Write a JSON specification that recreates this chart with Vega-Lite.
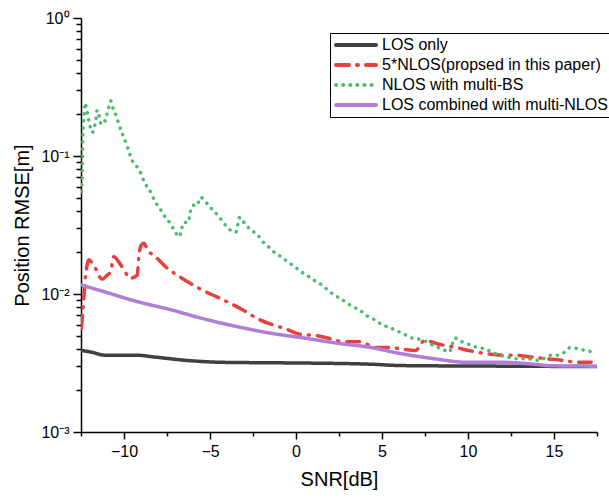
{
  "$schema": "https://vega.github.io/schema/vega-lite/v6.json",
  "width": 516,
  "height": 414,
  "autosize": "none",
  "padding": {"left": 81, "top": 18, "right": 12, "bottom": 69},
  "background": "white",
  "config": {
    "view": {"stroke": null},
    "font": "Liberation Sans",
    "axis": {"domainColor": "black", "domainWidth": 1.5, "tickColor": "black", "tickWidth": 1.5, "grid": false, "labelColor": "black", "titleColor": "black", "labelFontSize": 16, "titleFontSize": 20, "titleFontWeight": "normal"},
    "legend": {
      "orient": "none",
      "legendX": 249,
      "legendY": 15,
      "strokeColor": "black",
      "fillColor": "white",
      "padding": 4,
      "labelFontSize": 16,
      "labelColor": "black",
      "labelLimit": 400,
      "labelOffset": 4,
      "symbolSize": 1600,
      "symbolStrokeWidth": 4,
      "clipHeight": 16,
      "rowPadding": 4
    }
  },
  "datasets": {
    "curves": [
      {"snr": -12.47, "rmse": 0.0039, "method": "LOS only"},
      {"snr": -11.95, "rmse": 0.0038, "method": "LOS only"},
      {"snr": -11.08, "rmse": 0.0036, "method": "LOS only"},
      {"snr": -10.2, "rmse": 0.0036, "method": "LOS only"},
      {"snr": -9.23, "rmse": 0.0036, "method": "LOS only"},
      {"snr": -8.27, "rmse": 0.0035, "method": "LOS only"},
      {"snr": -6.33, "rmse": 0.0033, "method": "LOS only"},
      {"snr": -4.39, "rmse": 0.0032, "method": "LOS only"},
      {"snr": -2.45, "rmse": 0.00318, "method": "LOS only"},
      {"snr": 0.45, "rmse": 0.00316, "method": "LOS only"},
      {"snr": 4.33, "rmse": 0.0031, "method": "LOS only"},
      {"snr": 6.08, "rmse": 0.00303, "method": "LOS only"},
      {"snr": 12.0, "rmse": 0.003, "method": "LOS only"},
      {"snr": 17.5, "rmse": 0.00298, "method": "LOS only"},

      {"snr": -12.47, "rmse": 0.0056, "method": "5*NLOS(propsed in this paper)"},
      {"snr": -12.4, "rmse": 0.0075, "method": "5*NLOS(propsed in this paper)"},
      {"snr": -12.34, "rmse": 0.0093, "method": "5*NLOS(propsed in this paper)"},
      {"snr": -12.26, "rmse": 0.0126, "method": "5*NLOS(propsed in this paper)"},
      {"snr": -12.1, "rmse": 0.0171, "method": "5*NLOS(propsed in this paper)"},
      {"snr": -12.05, "rmse": 0.0177, "method": "5*NLOS(propsed in this paper)"},
      {"snr": -11.72, "rmse": 0.0158, "method": "5*NLOS(propsed in this paper)"},
      {"snr": -11.27, "rmse": 0.0128, "method": "5*NLOS(propsed in this paper)"},
      {"snr": -10.98, "rmse": 0.0137, "method": "5*NLOS(propsed in this paper)"},
      {"snr": -10.78, "rmse": 0.0145, "method": "5*NLOS(propsed in this paper)"},
      {"snr": -10.59, "rmse": 0.0186, "method": "5*NLOS(propsed in this paper)"},
      {"snr": -10.24, "rmse": 0.0166, "method": "5*NLOS(propsed in this paper)"},
      {"snr": -9.81, "rmse": 0.0137, "method": "5*NLOS(propsed in this paper)"},
      {"snr": -9.66, "rmse": 0.013, "method": "5*NLOS(propsed in this paper)"},
      {"snr": -9.23, "rmse": 0.0137, "method": "5*NLOS(propsed in this paper)"},
      {"snr": -9.14, "rmse": 0.0186, "method": "5*NLOS(propsed in this paper)"},
      {"snr": -9.04, "rmse": 0.022, "method": "5*NLOS(propsed in this paper)"},
      {"snr": -8.85, "rmse": 0.0233, "method": "5*NLOS(propsed in this paper)"},
      {"snr": -8.62, "rmse": 0.0208, "method": "5*NLOS(propsed in this paper)"},
      {"snr": -8.17, "rmse": 0.0186, "method": "5*NLOS(propsed in this paper)"},
      {"snr": -7.49, "rmse": 0.0154, "method": "5*NLOS(propsed in this paper)"},
      {"snr": -6.91, "rmse": 0.0137, "method": "5*NLOS(propsed in this paper)"},
      {"snr": -6.17, "rmse": 0.012, "method": "5*NLOS(propsed in this paper)"},
      {"snr": -5.4, "rmse": 0.0106, "method": "5*NLOS(propsed in this paper)"},
      {"snr": -4.58, "rmse": 0.0095, "method": "5*NLOS(propsed in this paper)"},
      {"snr": -3.85, "rmse": 0.0086, "method": "5*NLOS(propsed in this paper)"},
      {"snr": -3.03, "rmse": 0.0076, "method": "5*NLOS(propsed in this paper)"},
      {"snr": -2.22, "rmse": 0.0066, "method": "5*NLOS(propsed in this paper)"},
      {"snr": -1.38, "rmse": 0.006, "method": "5*NLOS(propsed in this paper)"},
      {"snr": -0.61, "rmse": 0.0056, "method": "5*NLOS(propsed in this paper)"},
      {"snr": 0.26, "rmse": 0.0051, "method": "5*NLOS(propsed in this paper)"},
      {"snr": 1.19, "rmse": 0.005, "method": "5*NLOS(propsed in this paper)"},
      {"snr": 2.1, "rmse": 0.0047, "method": "5*NLOS(propsed in this paper)"},
      {"snr": 2.78, "rmse": 0.0045, "method": "5*NLOS(propsed in this paper)"},
      {"snr": 3.71, "rmse": 0.0045, "method": "5*NLOS(propsed in this paper)"},
      {"snr": 4.62, "rmse": 0.0041, "method": "5*NLOS(propsed in this paper)"},
      {"snr": 5.49, "rmse": 0.0041, "method": "5*NLOS(propsed in this paper)"},
      {"snr": 6.08, "rmse": 0.004, "method": "5*NLOS(propsed in this paper)"},
      {"snr": 6.95, "rmse": 0.0039, "method": "5*NLOS(propsed in this paper)"},
      {"snr": 7.47, "rmse": 0.0046, "method": "5*NLOS(propsed in this paper)"},
      {"snr": 8.4, "rmse": 0.0043, "method": "5*NLOS(propsed in this paper)"},
      {"snr": 9.27, "rmse": 0.0041, "method": "5*NLOS(propsed in this paper)"},
      {"snr": 10.05, "rmse": 0.0039, "method": "5*NLOS(propsed in this paper)"},
      {"snr": 11.02, "rmse": 0.0037, "method": "5*NLOS(propsed in this paper)"},
      {"snr": 11.99, "rmse": 0.0036, "method": "5*NLOS(propsed in this paper)"},
      {"snr": 12.66, "rmse": 0.0036, "method": "5*NLOS(propsed in this paper)"},
      {"snr": 13.63, "rmse": 0.0035, "method": "5*NLOS(propsed in this paper)"},
      {"snr": 14.56, "rmse": 0.0034, "method": "5*NLOS(propsed in this paper)"},
      {"snr": 15.57, "rmse": 0.0033, "method": "5*NLOS(propsed in this paper)"},
      {"snr": 16.35, "rmse": 0.0032, "method": "5*NLOS(propsed in this paper)"},
      {"snr": 17.16, "rmse": 0.0032, "method": "5*NLOS(propsed in this paper)"},

      {"snr": -12.47, "rmse": 0.055, "method": "NLOS with multi-BS"},
      {"snr": -12.43, "rmse": 0.073, "method": "NLOS with multi-BS"},
      {"snr": -12.41, "rmse": 0.095, "method": "NLOS with multi-BS"},
      {"snr": -12.4, "rmse": 0.124, "method": "NLOS with multi-BS"},
      {"snr": -12.37, "rmse": 0.161, "method": "NLOS with multi-BS"},
      {"snr": -12.34, "rmse": 0.184, "method": "NLOS with multi-BS"},
      {"snr": -12.3, "rmse": 0.209, "method": "NLOS with multi-BS"},
      {"snr": -12.26, "rmse": 0.243, "method": "NLOS with multi-BS"},
      {"snr": -12.18, "rmse": 0.218, "method": "NLOS with multi-BS"},
      {"snr": -12.08, "rmse": 0.19, "method": "NLOS with multi-BS"},
      {"snr": -11.99, "rmse": 0.168, "method": "NLOS with multi-BS"},
      {"snr": -11.85, "rmse": 0.148, "method": "NLOS with multi-BS"},
      {"snr": -11.7, "rmse": 0.166, "method": "NLOS with multi-BS"},
      {"snr": -11.62, "rmse": 0.19, "method": "NLOS with multi-BS"},
      {"snr": -11.56, "rmse": 0.215, "method": "NLOS with multi-BS"},
      {"snr": -11.44, "rmse": 0.195, "method": "NLOS with multi-BS"},
      {"snr": -11.35, "rmse": 0.172, "method": "NLOS with multi-BS"},
      {"snr": -11.21, "rmse": 0.17, "method": "NLOS with multi-BS"},
      {"snr": -11.02, "rmse": 0.195, "method": "NLOS with multi-BS"},
      {"snr": -10.9, "rmse": 0.22, "method": "NLOS with multi-BS"},
      {"snr": -10.78, "rmse": 0.251, "method": "NLOS with multi-BS"},
      {"snr": -10.63, "rmse": 0.22, "method": "NLOS with multi-BS"},
      {"snr": -10.45, "rmse": 0.195, "method": "NLOS with multi-BS"},
      {"snr": -10.3, "rmse": 0.17, "method": "NLOS with multi-BS"},
      {"snr": -10.15, "rmse": 0.15, "method": "NLOS with multi-BS"},
      {"snr": -9.97, "rmse": 0.133, "method": "NLOS with multi-BS"},
      {"snr": -9.81, "rmse": 0.117, "method": "NLOS with multi-BS"},
      {"snr": -9.66, "rmse": 0.103, "method": "NLOS with multi-BS"},
      {"snr": -9.51, "rmse": 0.092, "method": "NLOS with multi-BS"},
      {"snr": -9.23, "rmse": 0.083, "method": "NLOS with multi-BS"},
      {"snr": -8.98, "rmse": 0.073, "method": "NLOS with multi-BS"},
      {"snr": -8.81, "rmse": 0.064, "method": "NLOS with multi-BS"},
      {"snr": -8.56, "rmse": 0.058, "method": "NLOS with multi-BS"},
      {"snr": -8.34, "rmse": 0.051, "method": "NLOS with multi-BS"},
      {"snr": -8.11, "rmse": 0.045, "method": "NLOS with multi-BS"},
      {"snr": -7.88, "rmse": 0.041, "method": "NLOS with multi-BS"},
      {"snr": -7.6, "rmse": 0.036, "method": "NLOS with multi-BS"},
      {"snr": -7.35, "rmse": 0.033, "method": "NLOS with multi-BS"},
      {"snr": -7.08, "rmse": 0.029, "method": "NLOS with multi-BS"},
      {"snr": -6.79, "rmse": 0.026, "method": "NLOS with multi-BS"},
      {"snr": -6.66, "rmse": 0.029, "method": "NLOS with multi-BS"},
      {"snr": -6.54, "rmse": 0.033, "method": "NLOS with multi-BS"},
      {"snr": -6.27, "rmse": 0.033, "method": "NLOS with multi-BS"},
      {"snr": -6.17, "rmse": 0.0375, "method": "NLOS with multi-BS"},
      {"snr": -6.08, "rmse": 0.043, "method": "NLOS with multi-BS"},
      {"snr": -5.92, "rmse": 0.044, "method": "NLOS with multi-BS"},
      {"snr": -5.73, "rmse": 0.044, "method": "NLOS with multi-BS"},
      {"snr": -5.59, "rmse": 0.05, "method": "NLOS with multi-BS"},
      {"snr": -5.38, "rmse": 0.049, "method": "NLOS with multi-BS"},
      {"snr": -5.1, "rmse": 0.044, "method": "NLOS with multi-BS"},
      {"snr": -4.78, "rmse": 0.04, "method": "NLOS with multi-BS"},
      {"snr": -4.45, "rmse": 0.036, "method": "NLOS with multi-BS"},
      {"snr": -4.14, "rmse": 0.032, "method": "NLOS with multi-BS"},
      {"snr": -3.81, "rmse": 0.029, "method": "NLOS with multi-BS"},
      {"snr": -3.5, "rmse": 0.028, "method": "NLOS with multi-BS"},
      {"snr": -3.38, "rmse": 0.032, "method": "NLOS with multi-BS"},
      {"snr": -3.27, "rmse": 0.036, "method": "NLOS with multi-BS"},
      {"snr": -2.95, "rmse": 0.032, "method": "NLOS with multi-BS"},
      {"snr": -2.6, "rmse": 0.029, "method": "NLOS with multi-BS"},
      {"snr": -2.26, "rmse": 0.027, "method": "NLOS with multi-BS"},
      {"snr": -1.93, "rmse": 0.024, "method": "NLOS with multi-BS"},
      {"snr": -1.6, "rmse": 0.022, "method": "NLOS with multi-BS"},
      {"snr": -1.25, "rmse": 0.02, "method": "NLOS with multi-BS"},
      {"snr": -0.86, "rmse": 0.0186, "method": "NLOS with multi-BS"},
      {"snr": -0.48, "rmse": 0.0171, "method": "NLOS with multi-BS"},
      {"snr": -0.09, "rmse": 0.0158, "method": "NLOS with multi-BS"},
      {"snr": 0.3, "rmse": 0.0145, "method": "NLOS with multi-BS"},
      {"snr": 0.69, "rmse": 0.0135, "method": "NLOS with multi-BS"},
      {"snr": 1.08, "rmse": 0.0125, "method": "NLOS with multi-BS"},
      {"snr": 1.47, "rmse": 0.0117, "method": "NLOS with multi-BS"},
      {"snr": 1.85, "rmse": 0.0107, "method": "NLOS with multi-BS"},
      {"snr": 2.24, "rmse": 0.0098, "method": "NLOS with multi-BS"},
      {"snr": 2.63, "rmse": 0.0092, "method": "NLOS with multi-BS"},
      {"snr": 3.01, "rmse": 0.0085, "method": "NLOS with multi-BS"},
      {"snr": 3.4, "rmse": 0.008, "method": "NLOS with multi-BS"},
      {"snr": 3.79, "rmse": 0.0075, "method": "NLOS with multi-BS"},
      {"snr": 4.17, "rmse": 0.0069, "method": "NLOS with multi-BS"},
      {"snr": 4.58, "rmse": 0.0065, "method": "NLOS with multi-BS"},
      {"snr": 4.99, "rmse": 0.006, "method": "NLOS with multi-BS"},
      {"snr": 5.44, "rmse": 0.0057, "method": "NLOS with multi-BS"},
      {"snr": 5.88, "rmse": 0.0054, "method": "NLOS with multi-BS"},
      {"snr": 6.31, "rmse": 0.0051, "method": "NLOS with multi-BS"},
      {"snr": 6.73, "rmse": 0.0048, "method": "NLOS with multi-BS"},
      {"snr": 7.18, "rmse": 0.0047, "method": "NLOS with multi-BS"},
      {"snr": 7.6, "rmse": 0.0045, "method": "NLOS with multi-BS"},
      {"snr": 8.03, "rmse": 0.0042, "method": "NLOS with multi-BS"},
      {"snr": 8.48, "rmse": 0.004, "method": "NLOS with multi-BS"},
      {"snr": 8.92, "rmse": 0.0038, "method": "NLOS with multi-BS"},
      {"snr": 9.08, "rmse": 0.0043, "method": "NLOS with multi-BS"},
      {"snr": 9.22, "rmse": 0.0048, "method": "NLOS with multi-BS"},
      {"snr": 9.66, "rmse": 0.0045, "method": "NLOS with multi-BS"},
      {"snr": 10.09, "rmse": 0.0043, "method": "NLOS with multi-BS"},
      {"snr": 10.53, "rmse": 0.0041, "method": "NLOS with multi-BS"},
      {"snr": 10.96, "rmse": 0.004, "method": "NLOS with multi-BS"},
      {"snr": 11.38, "rmse": 0.0038, "method": "NLOS with multi-BS"},
      {"snr": 11.83, "rmse": 0.0036, "method": "NLOS with multi-BS"},
      {"snr": 12.28, "rmse": 0.0035, "method": "NLOS with multi-BS"},
      {"snr": 12.69, "rmse": 0.0034, "method": "NLOS with multi-BS"},
      {"snr": 13.05, "rmse": 0.0034, "method": "NLOS with multi-BS"},
      {"snr": 13.48, "rmse": 0.0034, "method": "NLOS with multi-BS"},
      {"snr": 13.92, "rmse": 0.0033, "method": "NLOS with multi-BS"},
      {"snr": 14.37, "rmse": 0.0034, "method": "NLOS with multi-BS"},
      {"snr": 14.8, "rmse": 0.0036, "method": "NLOS with multi-BS"},
      {"snr": 15.2, "rmse": 0.0036, "method": "NLOS with multi-BS"},
      {"snr": 15.63, "rmse": 0.0038, "method": "NLOS with multi-BS"},
      {"snr": 15.96, "rmse": 0.0041, "method": "NLOS with multi-BS"},
      {"snr": 16.41, "rmse": 0.004, "method": "NLOS with multi-BS"},
      {"snr": 16.83, "rmse": 0.0039, "method": "NLOS with multi-BS"},
      {"snr": 17.28, "rmse": 0.0038, "method": "NLOS with multi-BS"},

      {"snr": -12.47, "rmse": 0.0116, "method": "LOS combined with multi-NLOS"},
      {"snr": -11.17, "rmse": 0.0104, "method": "LOS combined with multi-NLOS"},
      {"snr": -9.23, "rmse": 0.0088, "method": "LOS combined with multi-NLOS"},
      {"snr": -7.3, "rmse": 0.0077, "method": "LOS combined with multi-NLOS"},
      {"snr": -5.36, "rmse": 0.0066, "method": "LOS combined with multi-NLOS"},
      {"snr": -3.42, "rmse": 0.0058, "method": "LOS combined with multi-NLOS"},
      {"snr": -1.48, "rmse": 0.0052, "method": "LOS combined with multi-NLOS"},
      {"snr": 0.45, "rmse": 0.0048, "method": "LOS combined with multi-NLOS"},
      {"snr": 2.4, "rmse": 0.0044, "method": "LOS combined with multi-NLOS"},
      {"snr": 4.33, "rmse": 0.0041, "method": "LOS combined with multi-NLOS"},
      {"snr": 6.08, "rmse": 0.0037, "method": "LOS combined with multi-NLOS"},
      {"snr": 8.01, "rmse": 0.0034, "method": "LOS combined with multi-NLOS"},
      {"snr": 9.95, "rmse": 0.0032, "method": "LOS combined with multi-NLOS"},
      {"snr": 11.89, "rmse": 0.0032, "method": "LOS combined with multi-NLOS"},
      {"snr": 13.83, "rmse": 0.0031, "method": "LOS combined with multi-NLOS"},
      {"snr": 14.8, "rmse": 0.00302, "method": "LOS combined with multi-NLOS"},
      {"snr": 17.41, "rmse": 0.003, "method": "LOS combined with multi-NLOS"}
    ]
  },
  "data": {"name": "curves"},
  "mark": {"type": "line", "strokeWidth": 3.5, "strokeCap": "round", "strokeJoin": "round", "interpolate": "monotone", "clip": true},
  "encoding": {
    "x": {
      "field": "snr", "type": "quantitative",
      "scale": {"domain": [-12.5, 17.5], "nice": false, "zero": false},
      "axis": {
        "title": "SNR[dB]",
        "values": [-12.5, -10, -7.5, -5, -2.5, 0, 2.5, 5, 7.5, 10, 12.5, 15, 17.5],
        "labelExpr": "datum.value % 5 === 0 ? format(datum.value, 'd') : ''",
        "tickSize": {"condition": {"test": "datum.value % 5 === 0", "value": 7}, "value": 4},
        "labelPadding": 4,
        "titlePadding": 10
      }
    },
    "y": {
      "field": "rmse", "type": "quantitative",
      "scale": {"type": "log", "domain": [0.001, 1], "nice": false},
      "axis": {
        "title": "Position RMSE[m]",
        "values": [0.001, 0.002, 0.003, 0.004, 0.005, 0.006, 0.007, 0.008, 0.009, 0.01, 0.02, 0.03, 0.04, 0.05, 0.06, 0.07, 0.08, 0.09, 0.1, 0.2, 0.3, 0.4, 0.5, 0.6, 0.7, 0.8, 0.9, 1],
        "labelExpr": "datum.value == 1 ? '10⁰' : datum.value == 0.1 ? '10⁻¹' : datum.value == 0.01 ? '10⁻²' : datum.value == 0.001 ? '10⁻³' : ''",
        "tickSize": {"condition": {"test": "datum.value == 1 || datum.value == 0.1 || datum.value == 0.01 || datum.value == 0.001", "value": 8}, "value": 5},
        "labelPadding": 4,
        "titlePadding": 8
      }
    },
    "color": {
      "field": "method", "type": "nominal",
      "scale": {
        "domain": ["LOS only", "5*NLOS(propsed in this paper)", "NLOS with multi-BS", "LOS combined with multi-NLOS"],
        "range": ["#404040", "#e8403f", "#4cbb6c", "#b07ed8"]
      },
      "legend": {
        "title": null,
        "encode": {"symbols": {"update": {"strokeCap": {"value": "round"}}}}
      }
    },
    "strokeDash": {
      "field": "method", "type": "nominal",
      "scale": {
        "domain": ["LOS only", "5*NLOS(propsed in this paper)", "NLOS with multi-BS", "LOS combined with multi-NLOS"],
        "range": [[1, 0], [13, 8, 1, 8], [0.1, 7], [1, 0]]
      },
      "legend": {
        "title": null,
        "encode": {"symbols": {"update": {"strokeCap": {"value": "round"}}}}
      }
    }
  }
}
